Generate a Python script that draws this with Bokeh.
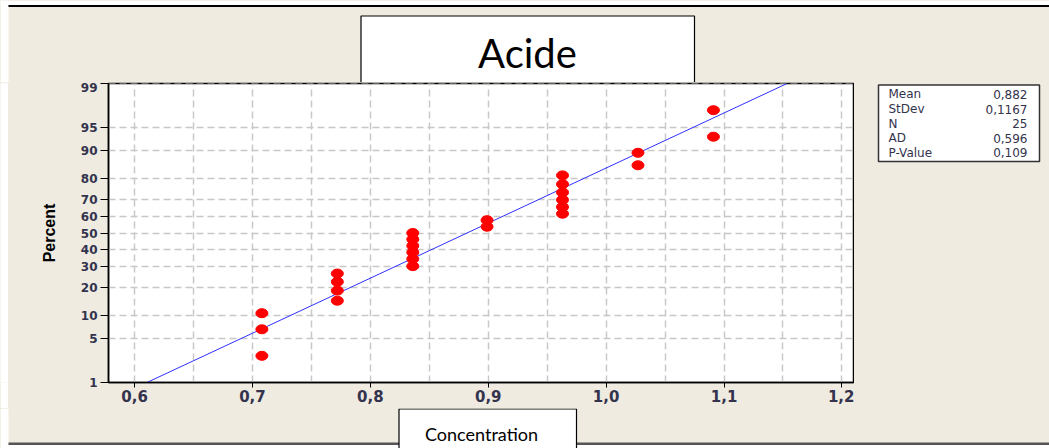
from statistics import NormalDist
from bokeh.plotting import figure
from bokeh.layouts import column, row
from bokeh.models import ColumnDataSource, Range1d, FixedTicker
from bokeh.core.properties import value
from bokeh.embed import file_html
from bokeh.resources import INLINE

# ---- data ----
concentration = [0.708, 0.708, 0.708,
                 0.772, 0.772, 0.772, 0.772,
                 0.836, 0.836, 0.836, 0.836, 0.836, 0.836,
                 0.899, 0.899,
                 0.963, 0.963, 0.963, 0.963, 0.963, 0.963,
                 1.027, 1.027,
                 1.091, 1.091]
percent = [2.8, 6.7, 10.6,
           14.6, 18.5, 22.4, 26.4,
           30.3, 34.3, 38.2, 42.1, 46.1, 50.0,
           53.9, 57.9,
           61.8, 65.7, 69.7, 73.6, 77.6, 81.5,
           85.4, 89.4,
           93.3, 97.2]
y_tick_percent = [1, 5, 10, 20, 30, 40, 50, 60, 70, 80, 90, 95, 99]
x_ticks = [0.6, 0.7, 0.8, 0.9, 1.0, 1.1, 1.2]
x_tick_labels = ["0,6", "0,7", "0,8", "0,9", "1,0", "1,1", "1,2"]
x_grid = [0.6, 0.65, 0.7, 0.75, 0.8, 0.85, 0.9, 0.95, 1.0, 1.05, 1.1, 1.15, 1.2]
stat_names = ["Mean", "StDev", "N", "AD", "P-Value"]
stat_values = ["0,882", "0,1167", "25", "0,596", "0,109"]
mean_val = 0.882
sd_val = 0.1167
title_text = "Acide"
x_title = "Concentration"
y_title = "Percent"

# probability (normal) scale transform
nd = NormalDist()
def zq(p):
    return nd.inv_cdf(p / 100.0)

BG = "#EFEBE1"
TXT = "#33334d"
W = 1049
TOP_H, MID_H, BOT_H = 82, 326, 40
LEFT_W, MAIN_W = 8, 846
RIGHT_W = W - LEFT_W - MAIN_W


def panel(w, h, bg=BG):
    f = figure(width=w, height=h, output_backend="svg", toolbar_location=None,
               x_range=Range1d(0, w), y_range=Range1d(h, 0),
               x_axis_type=None, y_axis_type=None, min_border=0)
    f.outline_line_color = None
    f.grid.visible = False
    f.background_fill_color = bg
    f.border_fill_color = bg
    return f


def rect(f, x0, y0, x1, y1, fill, line=None, lw=1.0):
    f.quad(left=[x0], right=[x1], top=[y0], bottom=[y1], fill_color=fill,
           line_color=line, line_width=lw)


def txt(f, x, y, s, size, font, color="black", align="left"):
    f.text(x=[x], y=[y], text=[s], text_font=value(font), text_font_size=value(size),
           text_color=color, text_align=align, text_baseline="middle")


# ---- top strip: page rule and title box ----
top = panel(W, TOP_H)
rect(top, 0, 0, 8, TOP_H, "white")
rect(top, 0, 0, W, 4.5, "white")
rect(top, 8, 4.5, W, 6.5, "black")
rect(top, 360.5, 15.5, 694, 83, "white", "black", 1.2)
txt(top, 527, 52, title_text, "40px", "Lato", "black", "center")

# ---- left white margin ----
left = panel(LEFT_W, MID_H, "white")

# ---- main probability plot ----
src = ColumnDataSource(dict(x=concentration, z=[zq(v) for v in percent]))
fit = NormalDist(mean_val, sd_val)
line_src = ColumnDataSource(dict(x=[fit.inv_cdf(0.01), fit.inv_cdf(0.99)],
                                 z=[zq(1), zq(99)]))

p = figure(width=MAIN_W, height=MID_H, output_backend="svg", toolbar_location=None,
           x_range=Range1d(0.5779, 1.2098),
           y_range=Range1d(zq(1) - 1e-9, zq(99) + 1e-9),
           min_border_left=100, min_border_right=1,
           min_border_top=1, min_border_bottom=26)
p.border_fill_color = BG
p.background_fill_color = "white"
p.outline_line_color = "black"
p.outline_line_width = 1.5

p.xaxis.ticker = FixedTicker(ticks=x_ticks)
p.xaxis.major_label_overrides = {t: l for t, l in zip(x_ticks, x_tick_labels)}
yt = [zq(v) for v in y_tick_percent]
p.yaxis.ticker = FixedTicker(ticks=yt)
p.yaxis.major_label_overrides = {t: str(v) for t, v in zip(yt, y_tick_percent)}
for ax in (p.xaxis, p.yaxis):
    ax.axis_line_color = "black"
    ax.axis_line_width = 1.5
    ax.major_tick_line_color = "black"
    ax.minor_tick_line_color = None
    ax.major_tick_in = 0
    ax.major_label_text_font = "DejaVu Sans"
    ax.major_label_text_font_style = "bold"
    ax.major_label_text_color = TXT
p.xaxis.major_tick_out = 5
p.xaxis.major_label_standoff = 2
p.xaxis.major_label_text_font_size = "15px"
p.yaxis.major_tick_out = 8
p.yaxis.major_label_standoff = 3
p.yaxis.major_label_text_font_size = "12px"
p.yaxis.axis_label = y_title
p.yaxis.axis_label_text_font = "Liberation Sans"
p.yaxis.axis_label_text_font_style = "bold"
p.yaxis.axis_label_text_font_size = "16px"
p.yaxis.axis_label_text_color = "black"
p.yaxis.axis_label_standoff = 20

p.xgrid.ticker = FixedTicker(ticks=x_grid)
p.ygrid.ticker = FixedTicker(ticks=yt)
for g in (p.xgrid, p.ygrid):
    g.grid_line_color = "#c8c8c8"
    g.grid_line_width = 1.5
    g.grid_line_dash = "7 4"

p.line("x", "z", source=line_src, line_color="#3030ff", line_width=1)
p.ellipse("x", "z", source=src, width=12, height=9,
          width_units="screen", height_units="screen",
          fill_color="#ff0000", line_color="#ff0000")

# ---- right strip: statistics box ----
right = panel(RIGHT_W, MID_H)
ox, oy = LEFT_W + MAIN_W, TOP_H
rect(right, 878 - ox, 83.5 - oy, 1039 - ox, 167 - oy, "white", "#333333", 1.5)
row_y = [93.5, 110, 126, 141.5, 157.5]
for yy, n, v in zip(row_y, stat_names, stat_values):
    txt(right, 888 - ox, yy - oy, n, "12px", "DejaVu Sans", TXT, "left")
    txt(right, 1027 - ox, yy - oy, v, "12px", "DejaVu Sans", TXT, "right")

# ---- bottom strip: x title box and page rule ----
bot = panel(W, BOT_H)
by = TOP_H + MID_H
rect(bot, 0, 0, 8, BOT_H, "white")
rect(bot, 8, 442 - by, W, 444.5 - by, "#555555")
rect(bot, 0, 444.5 - by, W, BOT_H + 2, "white")
rect(bot, 398.5, 0.5, 576, BOT_H + 5, "white", "black", 1.2)
txt(bot, 481, 433 - by, x_title, "18px", "Lato", "black", "center")

mid = row(left, p, right, spacing=0, styles={"background-color": BG})
layout = column(top, mid, bot, spacing=0, styles={"background-color": BG})
open("out.html", "w").write(file_html(layout, INLINE))
